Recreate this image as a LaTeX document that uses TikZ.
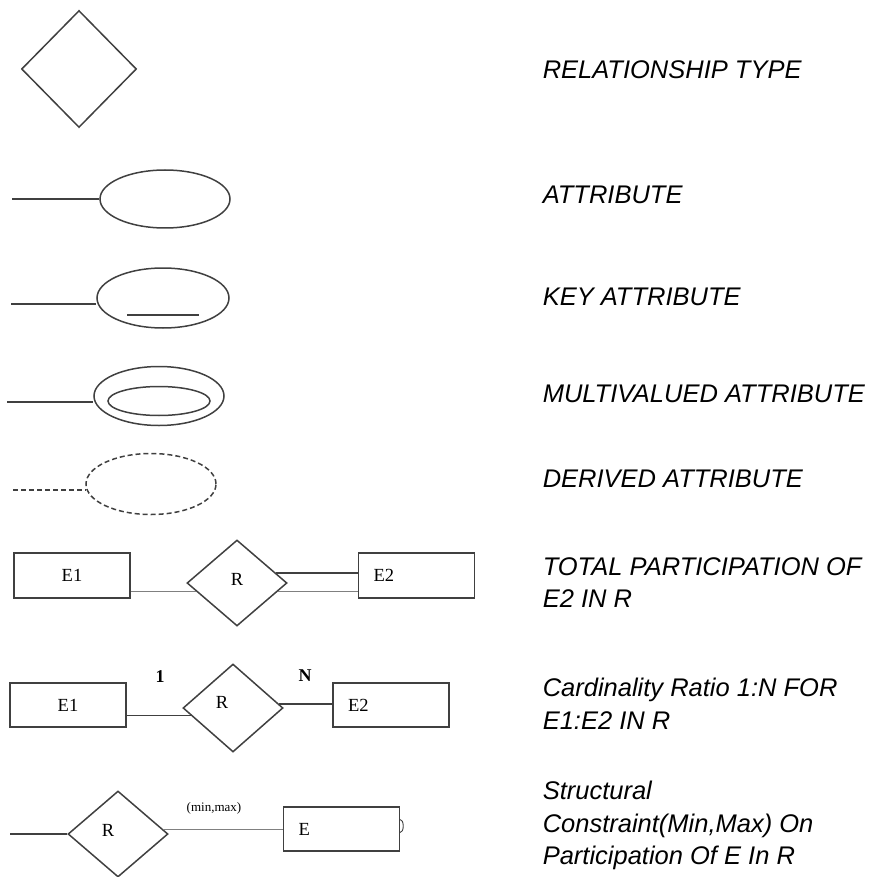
\documentclass[tikz,border=0pt]{standalone}
\usepackage{fontspec}
\setmainfont{Liberation Serif}
\newfontfamily\descfont{Liberation Sans}
\usetikzlibrary{shapes.geometric}

\begin{document}
\begin{tikzpicture}[x=1pt,y=-1pt,line width=1.5pt,
  every node/.style={inner sep=0pt},
  ln/.style={draw=black!75},
  faint/.style={draw=black!50},
  rtxt/.style={font=\fontsize{18.5}{20}\selectfont},
  rel/.style={shape=diamond,draw=black!75,minimum width=100pt,minimum height=86pt},
  ent/.style={rectangle,draw=black!75,minimum width=116pt,minimum height=45pt,rtxt},
  entl/.style={ent,text width=86pt,align=left,inner xsep=15pt},
  att/.style={ellipse,draw=black!75,minimum width=130pt,minimum height=58pt},
  desc/.style={anchor=base west,font=\descfont\itshape\fontsize{25.5}{32.5}\selectfont},
  descm/.style={anchor=north west,align=left,font=\descfont\itshape\fontsize{25.5}{32.5}\selectfont}]
\path[use as bounding box] (0,0) rectangle (877,877);

\node[rel,minimum width=115pt,minimum height=117pt] (rtype) at (79,69) {};
\node[desc] (rtypetxt) at (542,79) {RELATIONSHIP TYPE};

\node[att] (attr) at (165,199) {};
\coordinate (attrend) at (12,199);
\draw[ln] (attrend) -- (attr.west);
\node[desc] (attrtxt) at (542,204) {ATTRIBUTE};

\node[att,minimum width=132pt,minimum height=60pt] (key) at (163,298) {};
\coordinate (keyend) at (11,304);
\draw[ln] (keyend) -- (keyend -| key.west);
\draw[ln] ([xshift=-36pt,yshift=-17pt]key.center) -- ([xshift=36pt,yshift=-17pt]key.center);
\node[desc] (keytxt) at (542,305) {KEY ATTRIBUTE};

\node[att,minimum height=59pt] (multi) at (159,396) {};
\node[att,minimum width=102pt,minimum height=29pt] (multiin) at (159,401) {};
\coordinate (multiend) at (7,402);
\draw[ln] (multiend) -- (multiend -| multi.west);
\node[desc] (multitxt) at (542,402) {MULTIVALUED ATTRIBUTE};

\node[att,dash pattern=on 5pt off 3pt,minimum height=61pt] (der) at (151,484) {};
\coordinate (derend) at (13,490);
\draw[ln,dash pattern=on 5pt off 3pt] (derend) -- (derend -| der.west);
\node[desc] (dertxt) at (542,487) {DERIVED ATTRIBUTE};

\node[ent] (tE1) at (72,575.5) {E1};
\node[rel,label={[rtxt,yshift=4pt]center:R}] (tR) at (237,583) {};
\node[entl] (tE2) at (416.5,575.5) {E2};
\draw[faint] (tR.192 -| tE1.east) -- (tR.192);
\draw[ln] (tR.14) -- (tR.14 -| tE2.west);
\draw[faint] (tR.-12) -- (tR.-12 -| tE2.west);
\node[descm] (tottxt) at (542,556.5) {TOTAL PARTICIPATION OF\\E2 IN R};

\node[ent,minimum height=44pt] (cE1) at (68,705) {E1};
\node[rel,minimum height=88pt,label={[rtxt,xshift=-11pt,yshift=6pt]center:R}] (cR) at (233,708) {};
\node[entl,minimum height=44pt] (cE2) at (391,705) {E2};
\draw[ln] (cR.190 -| cE1.east) -- (cR.190);
\draw[ln] (cR.5) -- (cR.5 -| cE2.west);
\node[font=\bfseries\fontsize{18}{20}\selectfont] (cone) at (160,677) {1};
\node[font=\bfseries\fontsize{18}{20}\selectfont] (cmany) at (305,676) {N};
\node[descm] (cardtxt) at (542,677.5) {Cardinality Ratio 1:N FOR\\E1:E2 IN R};

\coordinate (send) at (10,834);
\node[rel,label={[rtxt,xshift=-10pt,yshift=4pt]center:R}] (sR) at (118,834) {};
\node[entl,minimum height=44pt] (sE) at (341.5,829) {E};
\draw[ln] (send) -- (sR.west);
\draw[faint] (sR.6) -- (sR.6 -| sE.west);
\node[font=\fontsize{13}{14}\selectfont] (sminmax) at (214,808) {(min,max)};
\draw[ln,line width=0.9pt] ([yshift=9.5pt]sE.east) arc[start angle=90,end angle=-90,x radius=3pt,y radius=6.5pt];
\node[descm] (structtxt) at (542,780.5) {Structural\\Constraint(Min,Max) On\\Participation Of E In R};
\end{tikzpicture}
\end{document}
